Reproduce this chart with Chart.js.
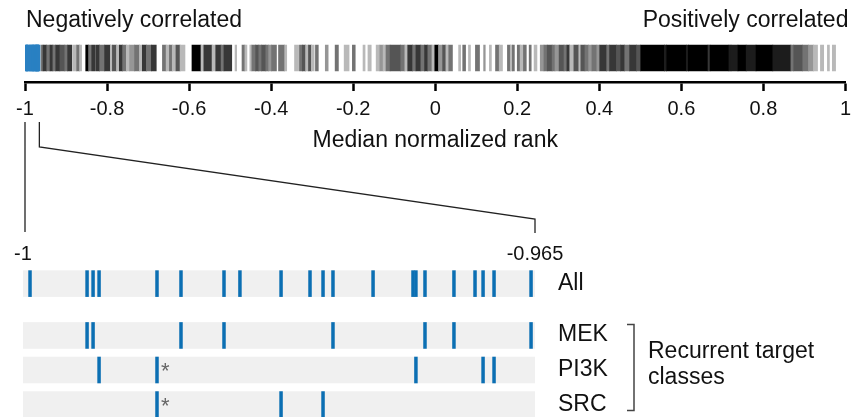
<!DOCTYPE html>
<html>
<head>
<meta charset="utf-8">
<script src="https://cdn.jsdelivr.net/npm/chart.js@4.4.1/dist/chart.umd.min.js"></script>
<style>
  html, body { margin: 0; padding: 0; background: #fff; }
  #wrap { position: relative; width: 857px; height: 417px; }
  #wrap canvas { position: absolute; left: 0; top: 0; }
</style>
</head>
<body>
<div id="wrap">
  <canvas id="overview" width="857" height="417"></canvas>
  <canvas id="detail" width="857" height="417"></canvas>
</div>
<script>
// Barcode of median normalized ranks (top) + zoom into the most negative end (bottom)
const FONT = "'Liberation Sans', Arial, Helvetica, sans-serif";
const TEXT = '#111';
const BLUE = '#0b6fb3';
const BLUE_STRIP = '#2a80c2';

const headings = ['Negatively correlated', 'Positively correlated'];
const axisTitle = 'Median normalized rank';
const overviewRange = [-1, 1];
const zoomRange = [-1, -0.965];

// strip: run edges along the rank axis and the darkness (0 = empty, 9 = black) of each run
const stripEdges = [
  -0.961, -0.956, -0.947, -0.939, -0.932, -0.925, -0.915, -0.903, -0.896, -0.886,
  -0.884, -0.874, -0.867, -0.862, -0.852, -0.845, -0.840, -0.838, -0.830, -0.828,
  -0.818, -0.806, -0.792, -0.787, -0.777, -0.770, -0.762, -0.753, -0.745, -0.733,
  -0.721, -0.714, -0.704, -0.692, -0.680, -0.665, -0.656, -0.648, -0.641, -0.632,
  -0.622, -0.610, -0.593, -0.571, -0.564, -0.544, -0.535, -0.522, -0.515, -0.496,
  -0.488, -0.484, -0.471, -0.464, -0.459, -0.452, -0.447, -0.438, -0.430, -0.423,
  -0.413, -0.406, -0.399, -0.387, -0.382, -0.367, -0.362, -0.343, -0.333, -0.331,
  -0.324, -0.316, -0.309, -0.302, -0.295, -0.292, -0.285, -0.268, -0.261, -0.244,
  -0.236, -0.222, -0.210, -0.202, -0.195, -0.176, -0.171, -0.164, -0.156, -0.144,
  -0.135, -0.127, -0.120, -0.110, -0.084, -0.074, -0.067, -0.055, -0.047, -0.035,
  -0.026, -0.018, -0.008, -0.001, 0.008, 0.018, 0.026, 0.033, 0.042, 0.057,
  0.062, 0.067, 0.074, 0.081, 0.086, 0.098, 0.108, 0.118, 0.122, 0.132,
  0.137, 0.147, 0.156, 0.164, 0.176, 0.183, 0.188, 0.193, 0.200, 0.207,
  0.215, 0.222, 0.229, 0.234, 0.241, 0.248, 0.256, 0.265, 0.273, 0.285,
  0.292, 0.302, 0.314, 0.321, 0.328, 0.338, 0.350, 0.355, 0.365, 0.374,
  0.382, 0.394, 0.401, 0.418, 0.425, 0.442, 0.452, 0.462, 0.474, 0.491,
  0.501, 0.559, 0.564, 0.612, 0.617, 0.665, 0.670, 0.716, 0.721, 0.738,
  0.758, 0.782, 0.823, 0.867, 0.874, 0.896, 0.910, 0.922, 0.932, 0.939,
  0.947, 0.956, 0.961, 0.968, 0.976
];
const stripShade = [
  5, 7, 5, 7, 5, 7, 6, 5, 7, 0,
  3, 5, 3, 0, 9, 5, 0, 7, 0, 7,
  5, 7, 3, 6, 3, 7, 5, 3, 4, 5,
  3, 7, 5, 7, 0, 5, 3, 5, 3, 6,
  3, 0, 9, 3, 7, 3, 7, 5, 7, 0,
  3, 0, 5, 3, 0, 3, 5, 6, 5, 6,
  5, 4, 5, 0, 5, 3, 0, 3, 0, 5,
  6, 3, 6, 3, 0, 5, 0, 4, 0, 5,
  0, 3, 0, 5, 0, 3, 0, 3, 0, 3,
  4, 3, 5, 6, 5, 3, 7, 5, 7, 5,
  7, 5, 3, 9, 4, 6, 3, 5, 0, 3,
  0, 5, 0, 3, 0, 5, 0, 4, 0, 3,
  0, 5, 3, 0, 5, 3, 5, 0, 5, 3,
  5, 0, 5, 0, 3, 0, 4, 5, 6, 5,
  4, 6, 5, 7, 3, 6, 3, 6, 5, 4,
  5, 4, 7, 5, 7, 6, 7, 5, 7, 6,
  9, 8, 9, 8, 9, 7, 9, 8, 8, 9,
  8, 9, 8, 5, 6, 5, 4, 3, 0, 3,
  0, 3, 0, 3
];

// zoomed hits (rank values)
const rowNames = ['All', 'MEK', 'PI3K', 'SRC'];
const hitsAll = [-0.99952, -0.99562, -0.99521, -0.99480, -0.99084, -0.98920, -0.98626,
  -0.98517, -0.98236, -0.98038, -0.97949, -0.97881, -0.97607, -0.97334, -0.97314,
  -0.97252, -0.97054, -0.96910, -0.96855, -0.96780, -0.96527];
const hitsMEK = [-0.99562, -0.99521, -0.98920, -0.98626, -0.97881, -0.97252, -0.97054, -0.96527];
const hitsPI3K = [-0.99480, -0.99084, -0.97314, -0.96855, -0.96780];
const hitsSRC = [-0.99084, -0.98236, -0.97949];
const starredHits = [-0.99084];
const groupLabel = ['Recurrent target', 'classes'];
const groupRows = ['MEK', 'PI3K', 'SRC'];

// layout
const ROW_Y = { All: 0, MEK: 1.5, PI3K: 2.5, SRC: 3.5 };
const BAND_HALF = 0.385;
const STRIP_Y = 0.293;
const HIT_HALF = 0.002;
const SHADE_GRAY = { 2: 205, 3: 185, 4: 150, 5: 115, 6: 85, 7: 55, 8: 28, 9: 0 };

function grayFor(level) {
  const g = SHADE_GRAY[level];
  return `rgb(${g},${g},${g})`;
}

const stripBars = [];
const stripColors = [];
stripShade.forEach((s, i) => {
  if (!s) return;
  stripBars.push({ x: [stripEdges[i], stripEdges[i + 1]], y: STRIP_Y });
  stripColors.push(grayFor(s));
});
const stripHits = hitsAll.map((v) => ({ x: [v - HIT_HALF, v + HIT_HALF], y: STRIP_Y }));

const headingPlugin = {
  id: 'headings',
  afterDraw(chart) {
    const { ctx, chartArea } = chart;
    ctx.save();
    ctx.font = `23px ${FONT}`;
    ctx.fillStyle = TEXT;
    ctx.textBaseline = 'alphabetic';
    ctx.textAlign = 'left';
    ctx.fillText(headings[0], chartArea.left + 1, 27);
    ctx.textAlign = 'right';
    ctx.fillText(headings[1], chartArea.right + 3, 27);
    ctx.restore();
  },
};

const overview = new Chart(document.getElementById('overview'), {
  type: 'bar',
  data: {
    datasets: [
      { data: stripBars, backgroundColor: stripColors, barThickness: 26, borderWidth: 0 },
      { data: stripHits, backgroundColor: BLUE_STRIP, barThickness: 26, borderWidth: 0 },
    ],
  },
  options: {
    indexAxis: 'y', responsive: false, animation: false,
    layout: { autoPadding: false, padding: { left: 25, right: 7, top: 0, bottom: 262.4 } },
    datasets: { bar: { grouped: false } },
    plugins: { legend: { display: false }, tooltip: { enabled: false } },
    scales: {
      y: { type: 'linear', min: 0, max: 1, display: false, offset: false },
      x: {
        type: 'linear', position: 'bottom', min: overviewRange[0], max: overviewRange[1], offset: false,
        border: { display: true, color: '#000', width: 2.5 },
        grid: { display: true, drawOnChartArea: false, drawTicks: true, tickLength: 9, tickWidth: 2.5, tickColor: '#000', offset: false },
        ticks: { stepSize: 0.2, padding: 6, color: TEXT, font: { family: FONT, size: 20 }, callback: (v) => String(+Number(v).toFixed(3)) },
        title: { display: true, text: axisTitle, color: TEXT, font: { family: FONT, size: 23 }, padding: { top: 0, bottom: 0 } },
      },
    },
  },
  plugins: [headingPlugin],
});

const detailPlugin = {
  id: 'detailDeco',
  beforeDatasetsDraw(chart) {
    const { ctx, chartArea, scales: { y } } = chart;
    ctx.save();
    ctx.fillStyle = '#f0f0f0';
    rowNames.forEach((name) => {
      const top = y.getPixelForValue(ROW_Y[name] - BAND_HALF);
      const bot = y.getPixelForValue(ROW_Y[name] + BAND_HALF);
      ctx.fillRect(chartArea.left, top, chartArea.right - chartArea.left, bot - top);
    });
    ctx.restore();
  },
  afterDraw(chart) {
    const { ctx, chartArea, scales: { x, y } } = chart;
    const rowHits = { All: hitsAll, MEK: hitsMEK, PI3K: hitsPI3K, SRC: hitsSRC };
    ctx.save();
    // asterisks on starred hits (class rows only)
    ctx.font = `22px ${FONT}`;
    ctx.fillStyle = '#666';
    ctx.textAlign = 'left';
    ctx.textBaseline = 'middle';
    groupRows.forEach((name) => {
      rowHits[name].filter((v) => starredHits.includes(v)).forEach((v) => {
        ctx.fillText('*', x.getPixelForValue(v) + 4, y.getPixelForValue(ROW_Y[name]) + 2);
      });
    });
    // row labels
    ctx.font = `23px ${FONT}`;
    ctx.fillStyle = TEXT;
    ctx.textBaseline = 'alphabetic';
    rowNames.forEach((name) => {
      ctx.fillText(name, chartArea.right + 23, y.getPixelForValue(ROW_Y[name]) + 6);
    });
    // bracket + group label
    const bx = chartArea.right + 99;
    const bTop = y.getPixelForValue(ROW_Y.MEK - 0.32);
    const bBot = y.getPixelForValue(ROW_Y.SRC + 0.17);
    ctx.strokeStyle = '#444';
    ctx.lineWidth = 1.5;
    ctx.beginPath();
    ctx.moveTo(bx - 7, bTop); ctx.lineTo(bx, bTop); ctx.lineTo(bx, bBot); ctx.lineTo(bx - 7, bBot);
    ctx.stroke();
    const mid = y.getPixelForValue(ROW_Y.PI3K);
    ctx.fillText(groupLabel[0], bx + 14, mid - 12);
    ctx.fillText(groupLabel[1], bx + 14, mid + 14);
    // connector between the overview axis and the zoomed axis
    const ox = overview.scales.x;
    const xa0 = ox.getPixelForValue(zoomRange[0]);
    const xa1 = ox.getPixelForValue(zoomRange[1]);
    const xb1 = x.getPixelForValue(zoomRange[1]);
    ctx.strokeStyle = '#222';
    ctx.lineWidth = 1.3;
    ctx.beginPath();
    ctx.moveTo(xa0, 122); ctx.lineTo(xa0, 232);
    ctx.moveTo(xa1, 122); ctx.lineTo(xa1, 147); ctx.lineTo(xb1, 219); ctx.lineTo(xb1, 233);
    ctx.stroke();
    ctx.restore();
  },
};

const rowHitsList = { All: hitsAll, MEK: hitsMEK, PI3K: hitsPI3K, SRC: hitsSRC };
new Chart(document.getElementById('detail'), {
  type: 'scatter',
  data: {
    datasets: rowNames.map((name) => ({
      label: name,
      data: rowHitsList[name].map((v) => ({ x: v, y: ROW_Y[name] })),
      pointStyle: 'line', pointRotation: 90, pointRadius: 13.3,
      pointBorderColor: BLUE, pointBorderWidth: 3.5, pointBackgroundColor: BLUE,
    })),
  },
  options: {
    responsive: false, animation: false,
    layout: { autoPadding: false, padding: { left: 23, right: 322, top: 242, bottom: 0 } },
    plugins: { legend: { display: false }, tooltip: { enabled: false } },
    scales: {
      y: { type: 'linear', min: -0.51, max: 3.86, reverse: true, display: false },
      x: {
        type: 'linear', position: 'top', min: zoomRange[0], max: zoomRange[1],
        border: { display: false },
        grid: { display: false, drawTicks: false },
        afterBuildTicks: (scale) => { scale.ticks = zoomRange.map((v) => ({ value: v })); },
        ticks: { padding: 0, color: TEXT, font: { family: FONT, size: 20 }, autoSkip: false, callback: (v) => String(v) },
      },
    },
  },
  plugins: [detailPlugin],
});
</script>
</body>
</html>
